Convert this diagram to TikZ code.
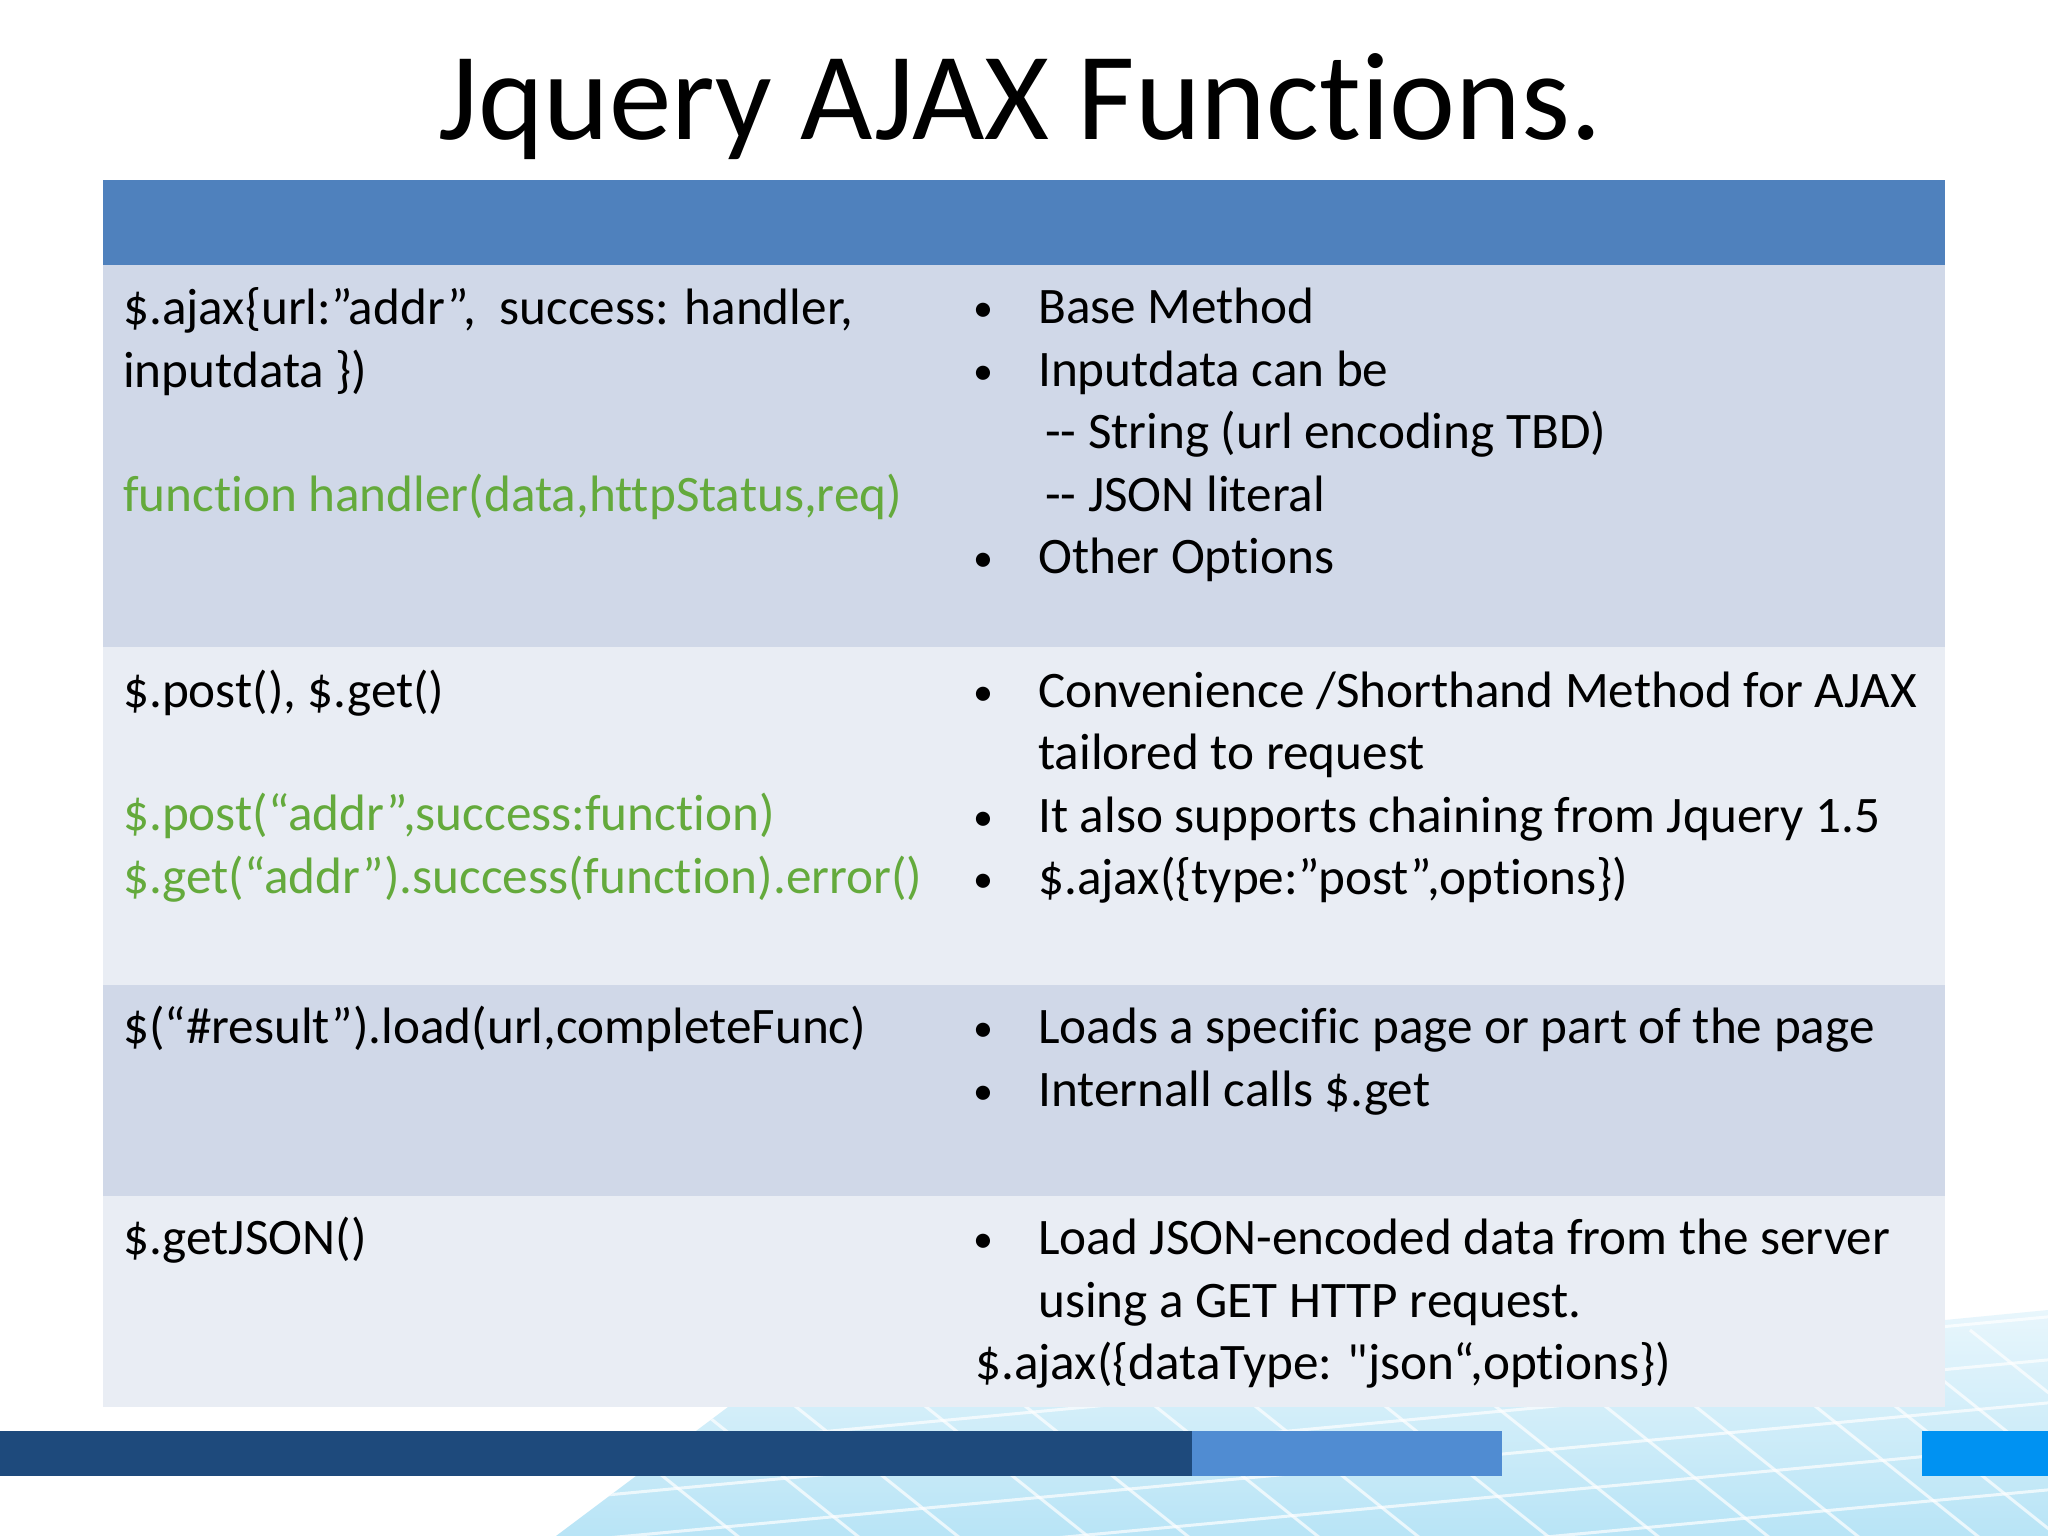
\documentclass[tikz,border=0pt]{standalone}
\usepackage{fontspec}
\newfontfamily\carlito[Ligatures=NoCommon]{Carlito}
\definecolor{hdr}{RGB}{79,129,189}
\definecolor{rowa}{RGB}{208,216,232}
\definecolor{rowb}{RGB}{233,237,244}
\definecolor{codegreen}{RGB}{100,170,60}
\definecolor{bardark}{RGB}{30,74,124}
\definecolor{barmid}{RGB}{80,140,210}
\definecolor{barbright}{RGB}{0,146,242}
\definecolor{skytop}{RGB}{232,246,252}
\definecolor{skybot}{RGB}{184,228,246}
\begin{document}
\begin{tikzpicture}[x=1pt,y=-1pt,
  txt/.style={anchor=base west, inner sep=0pt, font=\carlito\fontsize{51.2}{62.5}\selectfont, text=black},
  grn/.style={txt, text=codegreen},
  bul/.style={anchor=base, inner sep=0pt, font=\carlito\fontsize{40}{50}\selectfont, text=black},
  cell/.style={anchor=north west, inner sep=0pt, outer sep=0pt, draw=none},
  gridline/.style={white, line width=3pt, opacity=0.7}
]
\useasboundingbox (0,0) rectangle (2048,1536);
\fill[white] (0,0) rectangle (2048,1536);

% decorative background at the bottom
\shade[top color=skytop, bottom color=skybot]
  (744,1395) -- (1945,1390) -- (1945,1320) -- (2048,1310) -- (2048,1536) -- (556,1536) -- cycle;
\begin{scope}
  \clip (744,1395) -- (1945,1390) -- (1945,1320) -- (2048,1310) -- (2048,1536) -- (556,1536) -- cycle;
  \foreach \xa in {480,600,700,830,930,1060,1160,1290,1400,1510,1600,1720,1800,1880,1970,2060}
    \draw[gridline] (\xa,1330) -- ++(300,240);
  \foreach \ya in {1420,1462,1505,1548,1590,1635}
    \draw[gridline] (500,\ya) -- (2100,\ya-150);
\end{scope}

% bottom bars
\fill[bardark] (0,1431) rectangle (1192,1476);
\fill[barmid] (1192,1431) rectangle (1502,1476);
\fill[barbright] (1922,1431) rectangle (2048,1476);

% title
\node[anchor=base, inner sep=0pt, font=\carlito\fontsize{125}{150}\selectfont] (title) at (1020,140) {Jquery AJAX Functions.};

% table
\node[cell, fill=hdr, minimum width=1842pt, minimum height=85pt] (header) at (103,180) {};
\node[cell, fill=rowa, minimum width=1842pt, minimum height=382pt] (row1) at (103,265) {};
\node[cell, fill=rowb, minimum width=1842pt, minimum height=338pt] (row2) at (103,647) {};
\node[cell, fill=rowa, minimum width=1842pt, minimum height=211pt] (row3) at (103,985) {};
\node[cell, fill=rowb, minimum width=1842pt, minimum height=211pt] (row4) at (103,1196) {};

% row 1
\node[txt] (r1l1) at (123,324) {\$.ajax\{url:”addr”,\ \ success: handler,};
\node[txt] (r1l2) at (123,387) {inputdata \})};
\node[grn] (r1l3) at (123,511) {function handler(data,httpStatus,req)};
\node[bul] (r1b1) at (983,321) {•};
\node[txt] (r1r1) at (1038,323) {Base Method};
\node[bul] (r1b2) at (983,384) {•};
\node[txt] (r1r2) at (1038,386) {Inputdata can be};
\node[txt] (r1r3) at (1045,448) {-- String (url encoding TBD)};
\node[txt] (r1r4) at (1045,511) {-- JSON literal};
\node[bul] (r1b3) at (983,571) {•};
\node[txt] (r1r5) at (1038,573) {Other Options};

% row 2
\node[txt] (r2l1) at (123,707) {\$.post(), \$.get()};
\node[grn] (r2l2) at (123,830) {\$.post(“addr”,success:function)};
\node[grn] (r2l3) at (123,893) {\$.get(“addr”).success(function).error()};
\node[bul] (r2b1) at (983,705) {•};
\node[txt] (r2r1) at (1038,707) {Convenience /Shorthand Method for AJAX};
\node[txt] (r2r2) at (1038,769) {tailored to request};
\node[bul] (r2b2) at (983,830) {•};
\node[txt] (r2r3) at (1038,832) {It also supports chaining from Jquery 1.5};
\node[bul] (r2b3) at (983,892) {•};
\node[txt] (r2r4) at (1038,894) {\$.ajax(\{type:”post”,options\})};

% row 3
\node[txt] (r3l1) at (123,1043) {\$(“\#result”).load(url,completeFunc)};
\node[bul] (r3b1) at (983,1041) {•};
\node[txt] (r3r1) at (1038,1043) {Loads a specific page or part of the page};
\node[bul] (r3b2) at (983,1104) {•};
\node[txt] (r3r2) at (1038,1106) {Internall calls \$.get};

% row 4
\node[txt] (r4l1) at (123,1254) {\$.getJSON()};
\node[bul] (r4b1) at (983,1252) {•};
\node[txt] (r4r1) at (1038,1254) {Load JSON-encoded data from the server};
\node[txt] (r4r2) at (1038,1317) {using a GET HTTP request.};
\node[txt] (r4r3) at (975,1379) {\$.ajax(\{dataType: "json“,options\})};
\end{tikzpicture}
\end{document}
